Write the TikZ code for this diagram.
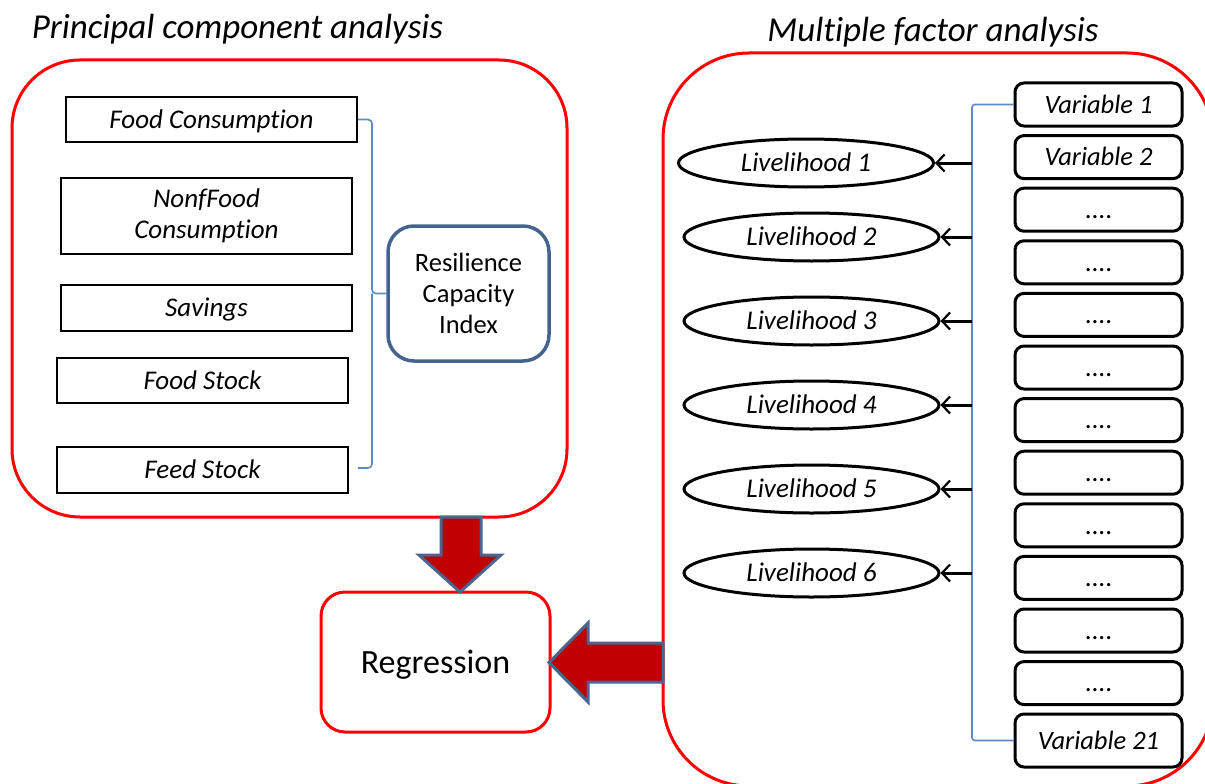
\documentclass[tikz,border=0pt]{standalone}
\usepackage{fontspec}
\setmainfont{Carlito}[Ligatures=NoCommon]
\usetikzlibrary{arrows.meta,shapes.geometric,calc}

\definecolor{panelred}{HTML}{FF0000}
\definecolor{arrowred}{HTML}{C00000}
\definecolor{arrowedge}{HTML}{4A6590}
\definecolor{indexblue}{HTML}{44648E}
\definecolor{linkblue}{HTML}{5B89C6}

\begin{document}
\begin{tikzpicture}[x=1pt,y=-1pt,
  panel/.style={draw=panelred, line width=3pt, rounded corners=#1, inner sep=0pt},
  panel/.default=68pt,
  title/.style={font=\fontsize{35}{42}\selectfont\itshape, inner sep=0pt},
  itembox/.style={draw=black, line width=1.8pt, inner sep=0pt, minimum width=291pt,
    font=\fontsize{27}{31.5}\selectfont\itshape, align=center},
  capline/.style={text height=17.5pt, text depth=0pt},
  indexbox/.style={draw=indexblue, line width=3.5pt, rounded corners=26pt, inner sep=0pt,
    minimum width=161pt, minimum height=135pt, align=center,
    font=\fontsize{26.5}{31}\selectfont},
  varbox/.style={draw=black, line width=3pt, rounded corners=9pt, inner sep=0pt,
    minimum width=167pt, minimum height=43pt, capline,
    font=\fontsize{26.5}{31}\selectfont\itshape},
  liv/.style={ellipse, draw=black, line width=3pt, inner sep=0pt,
    minimum width=255pt, minimum height=48pt, capline,
    font=\fontsize{27}{31}\selectfont\itshape},
  link/.style={draw=linkblue, line width=1.6pt, rounded corners=4pt},
  feed/.style={draw=black, line width=3pt,
    -{Straight Barb[length=8pt,width=17pt,line width=2.2pt]}},
  block/.style={fill=arrowred, draw=arrowedge, line width=3pt, line join=miter},
]
\path[use as bounding box] (0,0) rectangle (1205,784);
\clip (0,0) rectangle (1205,784);
\fill[white] (0,0) rectangle (1205,784);

% panel titles
\node[title, anchor=base] (pcaTitle) at (237.5,39) {Principal component analysis};
\node[title, anchor=base] (mfaTitle) at (933,42) {Multiple factor analysis};

% the two analysis panels
\node[panel, minimum width=555pt, minimum height=457pt] (pca) at (289.5,288.5) {};
\node[panel=86pt, minimum width=550pt, minimum height=733pt] (mfa) at (938,419.5) {};

% principal component inputs
\node[itembox, capline, minimum height=45pt] (fc)   at (211.5,119.5) {Food Consumption};
\node[itembox, minimum height=76pt]          (nfc)  at (206.5,216)   {NonfFood\\Consumption};
\node[itembox, capline, minimum height=46pt] (sav)  at (206.5,308)   {Savings};
\node[itembox, capline, minimum height=45pt] (fst)  at (202.5,380.5) {Food Stock};
\node[itembox, capline, minimum height=46pt] (fdst) at (202.5,470)   {Feed Stock};

\node[indexbox] (rci) at (468.5,293.5) {Resilience\\Capacity\\Index};

% brace gathering the inputs into the index
\coordinate (spine) at (372,0);
\coordinate (braceEnd) at (fc.east |- 0,468);
\draw[link] (fc.east) -| (spine |- rci.west) -- (rci.west);
\draw[link] (spine |- rci.west) |- (braceEnd);

% regression box
\node[draw=panelred, line width=3pt, rounded corners=24pt, minimum width=229pt,
  minimum height=140pt, inner sep=0pt, text height=22pt, text depth=0pt,
  font=\fontsize{34}{40}\selectfont] (reg) at (435.5,662) {Regression};

% livelihood factors
\node[liv] (L1) at (806,163)   {Livelihood 1};
\node[liv] (L2) at (811.5,237) {Livelihood 2};
\node[liv] (L3) at (811.5,321) {Livelihood 3};
\node[liv] (L4) at (811.5,405) {Livelihood 4};
\node[liv] (L5) at (811.5,489) {Livelihood 5};
\node[liv] (L6) at (811.5,573) {Livelihood 6};

% variables
\node[varbox] (V1)  at (1098.5,104.5) {Variable 1};
\node[varbox] (V2)  at (1098.5,157.1) {Variable 2};
\foreach \k in {3,...,12}{
  \node[varbox, font=\fontsize{27}{31}\selectfont] (V\k) at (1098.5,{104.5+52.6*(\k-1)}) {....};
}
\node[varbox, minimum height=53pt] (V21) at (1098.5,740.5) {Variable 21};

% bus joining the variables and feeding each livelihood
\coordinate (bus) at (972,0);
\draw[link, rounded corners=3pt] (V1.west) -| (bus |- 0,420) |- (V21.west);
\foreach \k in {1,...,6}{
  \draw[feed] (bus |- L\k.east) -- (L\k.east);
}

% block arrows into the regression
\draw[block] (441,517) -- (441,555) -- (419,555) -- (460,592) -- (501,555)
  -- (481,555) -- (481,517) -- cycle;
\draw[block] (663,643) -- (588,643) -- (588,623) -- (549,662.5) -- (588,702)
  -- (588,682) -- (663,682) -- cycle;
\end{tikzpicture}
\end{document}
